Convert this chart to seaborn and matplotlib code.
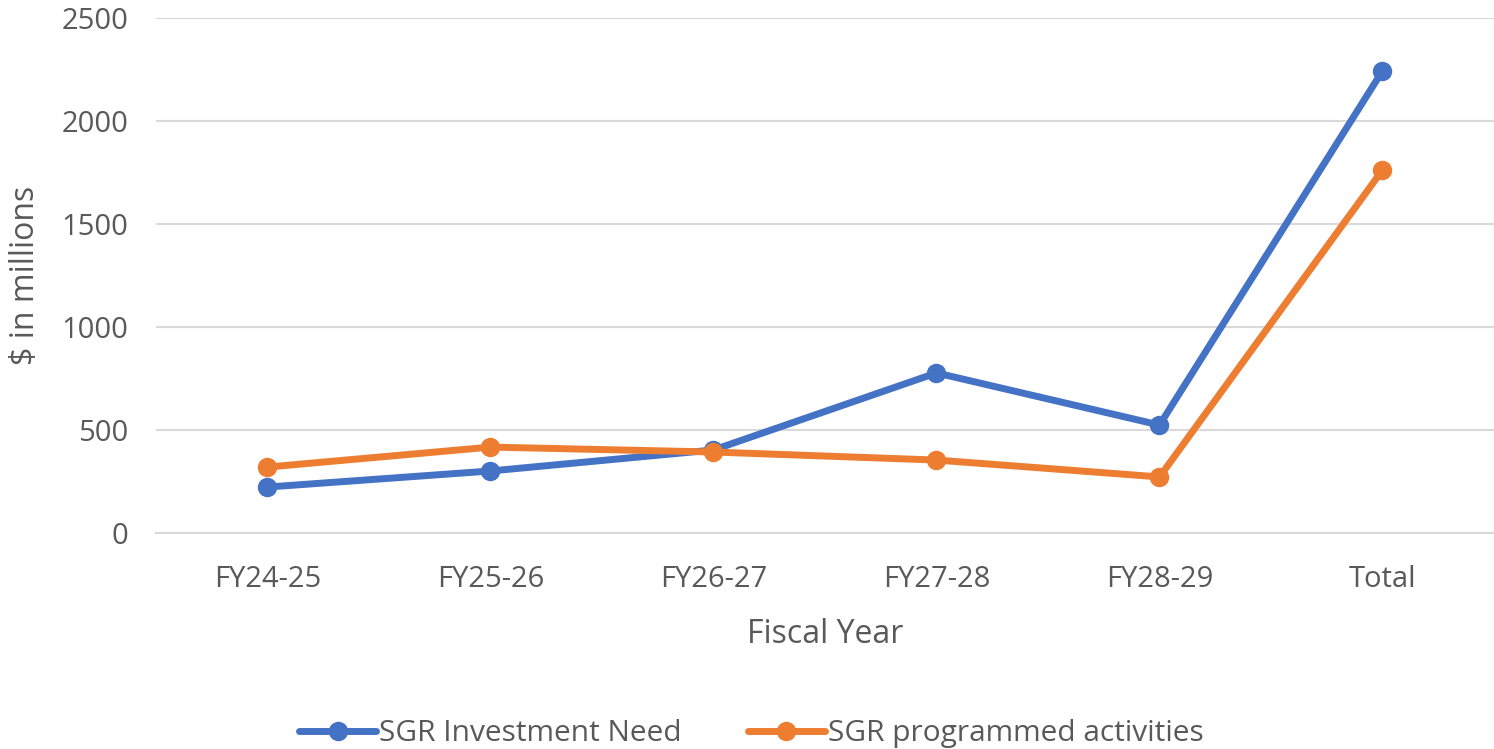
import pandas as pd
import numpy as np
import matplotlib
matplotlib.use("Agg")
import matplotlib.pyplot as plt
import seaborn as sns

# data ($ in millions)
years = ["FY24-25", "FY25-26", "FY26-27", "FY27-28", "FY28-29", "Total"]
investment_need = [223, 301, 403, 777, 524, 2243]
programmed = [320, 417, 393, 354, 272, 1762]

df = pd.DataFrame({
    "Fiscal Year": years * 2,
    "value": investment_need + programmed,
    "series": ["SGR Investment Need"] * len(years) + ["SGR programmed activities"] * len(years),
})

sns.set_style("white")
plt.rcParams['font.family'] = ['Open Sans', 'DejaVu Sans']
text_color = "#595959"

fig = plt.figure(figsize=(14.94, 7.49), dpi=100)
ax = fig.add_axes([0.1044, 0.2884, 0.8956, 0.6876])

sns.lineplot(data=df, x="Fiscal Year", y="value", hue="series",
             palette=["#4472C4", "#ED7D31"], marker="o", markersize=14,
             markeredgewidth=0, linewidth=5, sort=False, ax=ax)

ax.set_xlim(-0.5, len(years) - 0.5)
ax.set_ylim(0, 2500)
ax.set_yticks(np.arange(0, 2501, 500))
ax.yaxis.grid(True, color="#d9d9d9", linewidth=1.5)
ax.set_axisbelow(True)
for s in ["top", "right", "left"]:
    ax.spines[s].set_visible(False)
ax.spines["bottom"].set_color("#d9d9d9")
ax.spines["bottom"].set_linewidth(1.5)
ax.tick_params(axis="both", length=0, labelsize=21, labelcolor=text_color)
ax.tick_params(axis="x", pad=23)
ax.tick_params(axis="y", pad=20)

ax.set_xlabel("Fiscal Year", fontsize=23, color=text_color, labelpad=17)
ax.set_ylabel("$ in millions", fontsize=23, color=text_color, labelpad=14)

handles, labels = ax.get_legend_handles_labels()
ax.legend(handles, labels, loc="center", bbox_to_anchor=(0.445, -0.39),
          ncol=2, frameon=False, fontsize=21.5, labelcolor=text_color,
          handlelength=2.6, handletextpad=0.1, columnspacing=2.2)

fig.savefig("out.png", dpi=100)
